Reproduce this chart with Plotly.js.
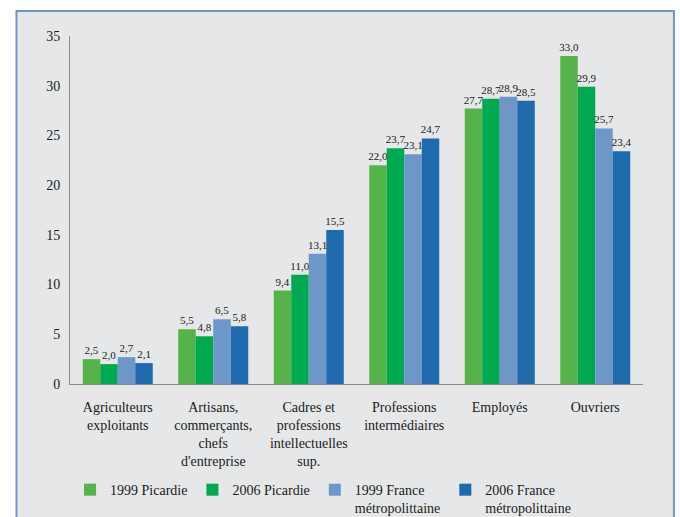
<!DOCTYPE html>
<html>
<head>
<meta charset="utf-8">
<script src="https://cdn.plot.ly/plotly-3.0.1.min.js"></script>
<style>
  html, body { margin: 0; padding: 0; background: #ffffff; font-family: "Liberation Serif", serif; }
  #chart { width: 680px; height: 517px; }
</style>
</head>
<body>
<div id="chart"></div>
<script>
// Catégories socioprofessionnelles (libellés sur plusieurs lignes)
const categories = [
  "Agriculteurs<br>exploitants",
  "Artisans,<br>commerçants,<br>chefs<br>d'entreprise",
  "Cadres et<br>professions<br>intellectuelles<br>sup.",
  "Professions<br>intermédiaires",
  "Employés",
  "Ouvriers"
];

// Part de chaque catégorie (%)
const picardie1999 = [2.5, 5.5, 9.4, 22.0, 27.7, 33.0];
const picardie2006 = [2.0, 4.8, 11.0, 23.7, 28.7, 29.9];
const france1999   = [2.7, 6.5, 13.1, 23.1, 28.9, 25.7];
const france2006   = [2.1, 5.8, 15.5, 24.7, 28.5, 23.4];

const seriesNames = [
  "1999 Picardie",
  "2006 Picardie",
  "1999 France<br>métropolittaine",
  "2006 France<br>métropolittaine"
];
const seriesColors = ["#56b34a", "#00a84f", "#6e97c9", "#1f69ad"];
const seriesValues = [picardie1999, picardie2006, france1999, france2006];

const serifFont = "'Liberation Serif', serif";

const traces = seriesValues.map((vals, i) => ({
  type: "bar",
  name: seriesNames[i],
  legendgroup: "s" + i,
  x: categories,
  y: vals,
  marker: { color: seriesColors[i] },
  texttemplate: "%{y:.1f}",
  textposition: "outside",
  textfont: { family: serifFont, size: 11, color: "#1a1a1a" },
  constraintext: "none",
  cliponaxis: false,
  hoverinfo: "skip"
}));

const layout = {
  width: 680,
  height: 517,
  margin: { l: 70, r: 37, t: 36, b: 133 },
  separators: ", ",
  paper_bgcolor: "#ffffff",
  plot_bgcolor: "rgba(0,0,0,0)",
  font: { family: serifFont, size: 14, color: "#1a1a1a" },
  barmode: "group",
  bargap: 0.267,
  bargroupgap: 0,
  showlegend: true,
  legend: {
    orientation: "h",
    xref: "container",
    yref: "container",
    x: 0.103,
    xanchor: "left",
    y: 0.083,
    yanchor: "top",
    valign: "top",
    tracegroupgap: 4,
    bgcolor: "rgba(0,0,0,0)",
    font: { family: serifFont, size: 14, color: "#1a1a1a" },
    traceorder: "normal"
  },
  xaxis: {
    showline: true,
    linecolor: "#8c8c8c",
    linewidth: 1,
    ticks: "",
    showgrid: false,
    zeroline: false,
    tickfont: { family: serifFont, size: 14, color: "#1a1a1a" },
    ticklabelstandoff: 10
  },
  yaxis: {
    range: [0, 35],
    dtick: 5,
    tick0: 0,
    showline: true,
    linecolor: "#8c8c8c",
    linewidth: 1,
    ticks: "",
    showgrid: false,
    zeroline: false,
    tickfont: { family: serifFont, size: 14, color: "#1a1a1a" },
    ticklabelstandoff: 6
  },
  shapes: [{
    type: "rect",
    xref: "paper",
    yref: "paper",
    x0: -0.0934,
    x1: 1.054,
    y0: -0.6,
    y1: 1.0718,
    layer: "below",
    fillcolor: "#e6e7e8",
    line: { color: "#6f97c9", width: 2 }
  }]
};

Plotly.newPlot("chart", traces, layout, { displayModeBar: false });
</script>
</body>
</html>
